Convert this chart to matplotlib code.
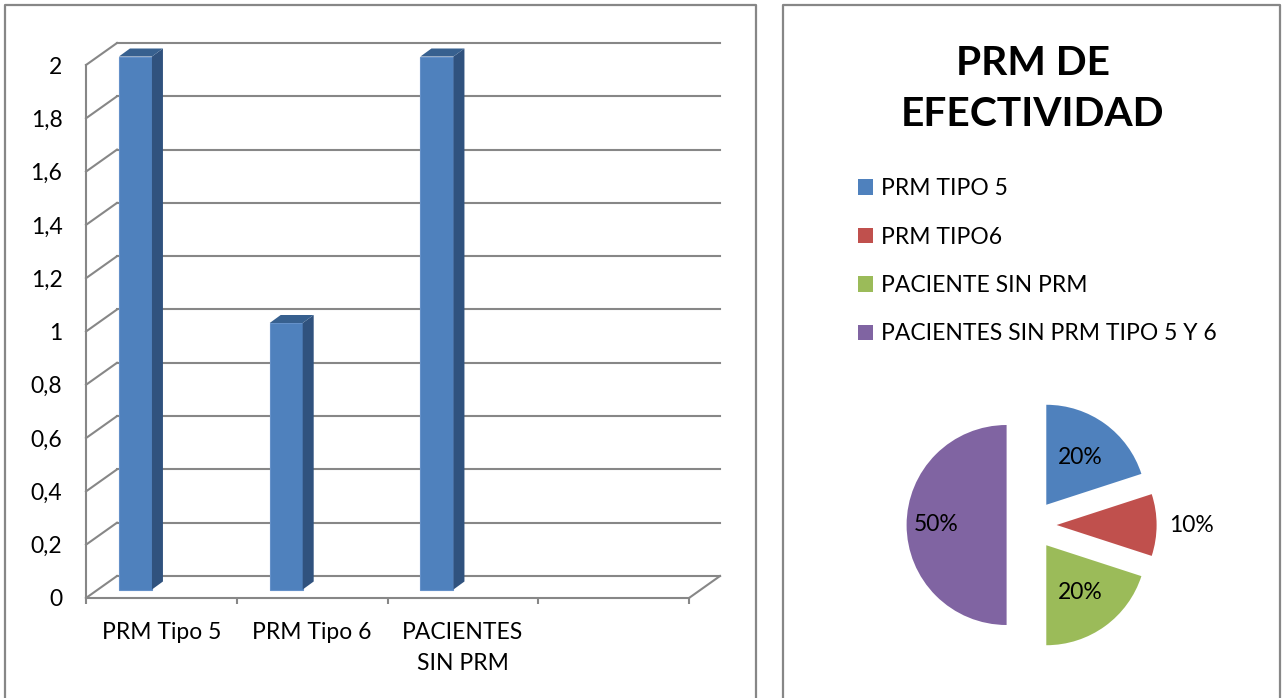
import matplotlib.pyplot as plt
import numpy as np
from matplotlib.patches import Polygon
from matplotlib.lines import Line2D

plt.rcParams['font.family'] = ['Lato', 'DejaVu Sans']

# datos del grafico de barras
categorias = ["PRM Tipo 5", "PRM Tipo 6", "PACIENTES\nSIN PRM"]
valores = [2, 1, 2]
n_slots = 4  # el eje tiene un hueco vacio al final
y_ticks = [0, 0.2, 0.4, 0.6, 0.8, 1.0, 1.2, 1.4, 1.6, 1.8, 2.0]
y_labels = ["0", "0,2", "0,4", "0,6", "0,8", "1", "1,2", "1,4", "1,6", "1,8", "2"]

# datos del grafico circular
pie_titulo = "PRM DE\nEFECTIVIDAD"
pie_labels = ["PRM TIPO 5", "PRM TIPO6", "PACIENTE SIN PRM", "PACIENTES SIN PRM TIPO 5 Y 6"]
pie_vals = [20, 10, 20, 50]
pie_colors = ["#4F81BD", "#C0504D", "#9BBB59", "#8064A2"]
label_dist = [0.58, 1.35, 0.58, 0.7]

W, H = 1283, 698
GRIS = "#878787"
FS = 16.5


def px_box(x0, y0, x1, y1):
    return [x0 / W, 1 - y1 / H, (x1 - x0) / W, (y1 - y0) / H]


fig = plt.figure(figsize=(W / 100, H / 100), dpi=100)

# marcos de los dos paneles
for x0, x1 in [(5, 756), (783, 1280)]:
    fig.add_artist(Line2D([x0 / W, x0 / W, x1 / W, x1 / W], [0, 1 - 5 / H, 1 - 5 / H, 0],
                          transform=fig.transFigure, color=GRIS, lw=1.6))

# ---- barras con efecto 3D ----
sx, sy = 150.75, 266.5        # pixeles por categoria / por unidad
dx, dy = 31 / sx, 22 / sy     # profundidad de la pared del fondo
ax = fig.add_axes(px_box(86, 598 - (2 * sy + 22), 86 + (n_slots + dx) * sx, 598))
ax.set_xlim(0, n_slots + dx)
ax.set_ylim(0, 2 + dy)
for s in ax.spines.values():
    s.set_visible(False)

for v in y_ticks:
    ax.plot([dx, n_slots + dx], [v + dy, v + dy], color=GRIS, lw=1.5, clip_on=False, zorder=1)
    ax.plot([0, dx], [v, v + dy], color=GRIS, lw=1.5, clip_on=False, zorder=1)
ax.plot([0, 0], [0, 2], color=GRIS, lw=1.5, clip_on=False, zorder=1)
ax.plot([0, n_slots], [0, 0], color=GRIS, lw=1.5, clip_on=False, zorder=1)
ax.plot([n_slots, n_slots + dx], [0, dy], color=GRIS, lw=1.5, clip_on=False, zorder=1)

bw = 33 / sx
bdx, bdy = 11 / sx, 8 / sy
base = 8.5 / sy
xs = np.arange(len(valores)) + 0.5 - 0.172
ax.bar(xs, valores, width=bw, bottom=base, color="#4F81BD", edgecolor="#6591C9",
       linewidth=0.8, zorder=3)
for x, v in zip(xs, valores):
    xl, xr = x - bw / 2, x + bw / 2
    yt = base + v
    ax.add_patch(Polygon([(xr, base), (xr, yt), (xr + bdx, yt + bdy), (xr + bdx, base + bdy)],
                         closed=True, facecolor="#30527E", edgecolor="none", zorder=3))
    ax.add_patch(Polygon([(xl, yt), (xr, yt), (xr + bdx, yt + bdy), (xl + bdx, yt + bdy)],
                         closed=True, facecolor="#37608F", edgecolor="none", zorder=3))

ax.set_yticks(y_ticks, y_labels)
ax.set_xticks(np.arange(len(categorias)) + 0.5, categorias)
ax.set_xticks(np.arange(n_slots + 1), minor=True)
ax.tick_params(axis='y', length=0, pad=17, labelsize=FS)
ax.tick_params(axis='x', which='major', length=0, pad=17.5, labelsize=FS)
ax.tick_params(axis='x', which='minor', length=4.5, width=1.5, color=GRIS)
for lab in ax.get_xticklabels():
    lab.set_linespacing(1.55)

# ---- grafico circular ----
pax = fig.add_axes(px_box(881.6, 375, 1181.6, 675))
wedges, _ = pax.pie(pie_vals, colors=pie_colors, startangle=90, counterclock=False,
                    explode=[0.25] * len(pie_vals), radius=1)
total = sum(pie_vals)
for w, val, d in zip(wedges, pie_vals, label_dist):
    ang = np.deg2rad((w.theta1 + w.theta2) / 2)
    cx, cy = w.center
    pax.text(cx + d * np.cos(ang), cy + d * np.sin(ang), f"{val / total:.0%}",
             ha='center', va='center', fontsize=FS)
pax.set_xlim(-1.5, 1.5)
pax.set_ylim(-1.5, 1.5)
pax.axis('off')

fig.text(1033 / W, 1 - 89 / H, pie_titulo, ha='center', va='center',
         fontsize=29.3, fontweight='bold', linespacing=1.45)
fig.legend(wedges, pie_labels, loc='upper left', bbox_to_anchor=(858 / W, 1 - 178 / H),
           frameon=False, fontsize=FS, handlelength=0.65, handleheight=0.65,
           handletextpad=0.35, labelspacing=1.2, borderaxespad=0, borderpad=0)

fig.savefig("out.png", dpi=100)
